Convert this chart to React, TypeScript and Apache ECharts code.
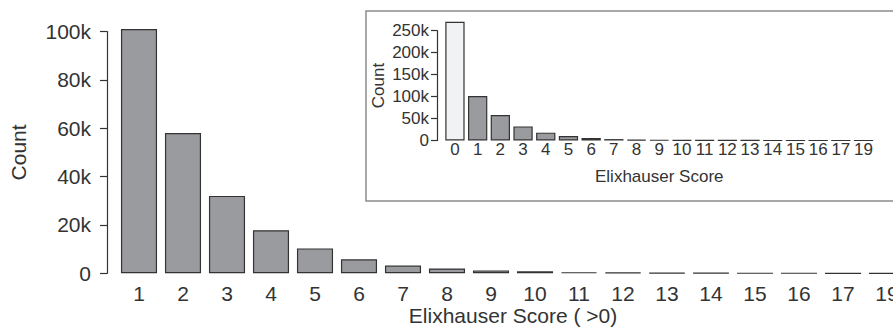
import React, { useEffect, useRef } from "react";
import * as echarts from "echarts";

const mainCategories = ["1","2","3","4","5","6","7","8","9","10","11","12","13","14","15","16","17","19"];
const mainValues = [101000, 58000, 32000, 17800, 10300, 5800, 3200, 2000, 1200, 800, 450, 300, 180, 100, 60, 40, 20, 10];
const insetCategories = ["0","1","2","3","4","5","6","7","8","9","10","11","12","13","14","15","16","17","19"];
const insetValues = [270000, 101000, 58000, 32000, 17800, 10300, 5800, 3200, 2000, 1200, 800, 450, 300, 180, 100, 60, 40, 20, 10];

const FONT = '"Liberation Sans", Arial, Helvetica, sans-serif';
const TXT = "#333333";
const BAR = "#9a9b9f";
const EDGE = "#333333";

const fmtK = (v: number) => (v === 0 ? "0" : v / 1000 + "k");

export default function App() {
  const ref = useRef<HTMLDivElement>(null);
  useEffect(() => {
    if (!ref.current) return;
    const chart = echarts.init(ref.current, undefined, { renderer: "svg" });
    chart.setOption({
      animation: false,
      backgroundColor: "#ffffff",
      textStyle: { fontFamily: FONT, color: TXT },
      graphic: [
        {
          type: "rect",
          z: 0,
          shape: { x: 366, y: 11, width: 540, height: 190 },
          style: { fill: "transparent", stroke: "#8c8c8c", lineWidth: 1.5 },
        },
      ],
      grid: [
        { left: 117, top: 31.5, width: 792, height: 241.8, outerBoundsMode: "none", containLabel: false },
        { left: 443.6, top: 30.5, width: 431.3, height: 110, outerBoundsMode: "none", containLabel: false },
      ],
      xAxis: [
        {
          type: "category",
          gridIndex: 0,
          data: mainCategories,
          axisLine: { show: false },
          axisTick: { show: false },
          axisLabel: { fontSize: 21, color: TXT, fontFamily: FONT, margin: 10, interval: 0 },
          name: "Elixhauser Score ( >0)",
          nameLocation: "middle",
          nameGap: 32,
          nameMoveOverlap: false,
          nameTextStyle: { fontSize: 21, color: TXT, fontFamily: FONT },
        },
        {
          type: "category",
          gridIndex: 1,
          data: insetCategories,
          axisLine: { show: false },
          axisTick: { show: false },
          axisLabel: { fontSize: 17, color: TXT, fontFamily: FONT, margin: 0, interval: 0 },
          name: "Elixhauser Score",
          nameLocation: "middle",
          nameGap: 27,
          nameMoveOverlap: false,
          nameTextStyle: { fontSize: 17, color: TXT, fontFamily: FONT },
        },
      ],
      yAxis: [
        {
          type: "value",
          gridIndex: 0,
          min: 0,
          max: 100000,
          interval: 20000,
          offset: 10,
          axisLine: { show: true, lineStyle: { color: EDGE, width: 1.2 } },
          axisTick: { show: true, length: 7, lineStyle: { color: EDGE, width: 1.2 } },
          splitLine: { show: false },
          axisLabel: { fontSize: 21, color: TXT, fontFamily: FONT, margin: 16, formatter: fmtK },
          name: "Count",
          nameLocation: "middle",
          nameGap: 78,
          nameMoveOverlap: false,
          nameTextStyle: { fontSize: 21, color: TXT, fontFamily: FONT },
        },
        {
          type: "value",
          gridIndex: 1,
          min: 0,
          max: 250000,
          interval: 50000,
          offset: 6.6,
          axisLine: { show: true, lineStyle: { color: EDGE, width: 1.2 } },
          axisTick: { show: true, length: 6, lineStyle: { color: EDGE, width: 1.2 } },
          splitLine: { show: false },
          axisLabel: { fontSize: 17, color: TXT, fontFamily: FONT, margin: 8, formatter: fmtK },
          name: "Count",
          nameLocation: "middle",
          nameGap: 50,
          nameMoveOverlap: false,
          nameTextStyle: { fontSize: 17, color: TXT, fontFamily: FONT },
        },
      ],
      series: [
        {
          type: "bar",
          xAxisIndex: 0,
          yAxisIndex: 0,
          data: mainValues,
          barCategoryGap: "18%",
          clip: false,
          itemStyle: { color: BAR, borderColor: EDGE, borderWidth: 1.2 },
        },
        {
          type: "bar",
          xAxisIndex: 1,
          yAxisIndex: 1,
          data: insetValues.map((v, i) =>
            i === 0 ? { value: v, itemStyle: { color: "#f1f2f3" } } : v
          ),
          barCategoryGap: "15%",
          clip: false,
          itemStyle: { color: BAR, borderColor: EDGE, borderWidth: 1.2 },
        },
      ],
    });
    return () => chart.dispose();
  }, []);
  return (
    <div
      ref={ref}
      style={{ position: "fixed", left: 0, top: 0, width: 893, height: 327 }}
    />
  );
}
